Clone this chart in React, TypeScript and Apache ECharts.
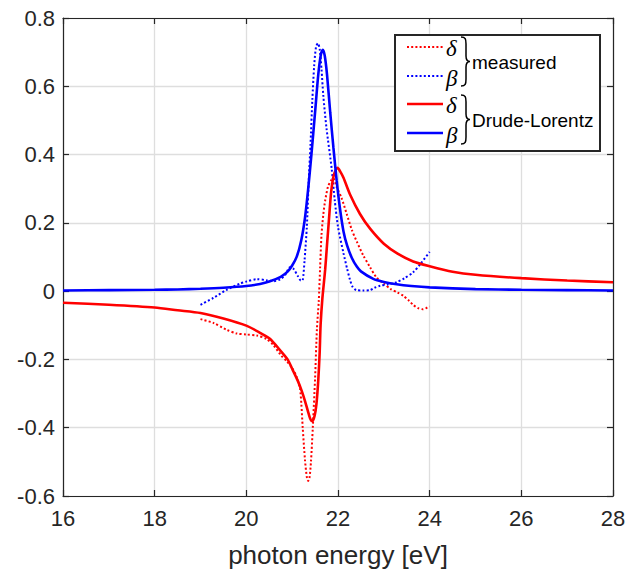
import React, { useEffect, useRef } from "react";
import * as echarts from "echarts";

// Drude-Lorentz fit (solid lines): [photon energy eV, value]
const drudeDelta: [number, number][] = [
  [16, -0.034], [17, -0.040], [18, -0.048], [18.5, -0.056], [19, -0.064], [19.5, -0.080],
  [20, -0.101], [20.3, -0.122], [20.52, -0.140], [20.73, -0.172], [20.9, -0.200], [21.03, -0.236],
  [21.13, -0.265], [21.21, -0.293], [21.28, -0.322], [21.34, -0.350], [21.39, -0.372], [21.44, -0.381],
  [21.49, -0.365], [21.53, -0.330], [21.57, -0.260], [21.6, -0.180], [21.62, -0.100], [21.66, -0.020],
  [21.72, 0.063], [21.76, 0.135], [21.8, 0.205], [21.85, 0.290], [21.9, 0.335], [21.95, 0.355],
  [21.99, 0.361], [22.05, 0.350], [22.12, 0.332], [22.26, 0.284], [22.48, 0.226], [22.7, 0.183],
  [23, 0.139], [23.3, 0.110], [23.64, 0.087], [24, 0.073], [24.5, 0.057], [25, 0.048],
  [26, 0.038], [27, 0.031], [28, 0.026],
];

const drudeBeta: [number, number][] = [
  [16, 0.002], [17, 0.003], [18, 0.004], [18.5, 0.005], [19, 0.007], [19.5, 0.010],
  [20, 0.015], [20.3, 0.021], [20.5, 0.028], [20.75, 0.042], [20.9, 0.057], [21.0, 0.075],
  [21.1, 0.101], [21.2, 0.150], [21.28, 0.215], [21.35, 0.300], [21.42, 0.400], [21.5, 0.524],
  [21.57, 0.635], [21.63, 0.695], [21.67, 0.707], [21.71, 0.690], [21.76, 0.635], [21.83, 0.524],
  [21.9, 0.420], [21.97, 0.325], [22.04, 0.245], [22.12, 0.175], [22.2, 0.133], [22.3, 0.098],
  [22.41, 0.072], [22.5, 0.058], [22.77, 0.036], [23.0, 0.027], [23.28, 0.020], [23.6, 0.015],
  [24, 0.011], [25, 0.006], [26, 0.004], [27, 0.003], [28, 0.002],
];

// Measured (dotted lines)
const measuredDelta: [number, number][] = [
  [19.0, -0.082], [19.28, -0.093], [19.57, -0.113], [19.79, -0.124], [20.0, -0.127], [20.23, -0.130],
  [20.44, -0.140], [20.59, -0.158], [20.77, -0.190], [20.88, -0.205], [21.0, -0.225], [21.1, -0.252],
  [21.17, -0.285], [21.2, -0.330], [21.23, -0.400], [21.28, -0.495], [21.32, -0.545], [21.35, -0.556],
  [21.38, -0.545], [21.41, -0.500], [21.45, -0.400], [21.5, -0.255], [21.54, -0.111], [21.58, -0.030],
  [21.61, 0.070], [21.64, 0.165], [21.68, 0.225], [21.72, 0.265], [21.78, 0.305], [21.85, 0.325],
  [21.9, 0.330], [21.97, 0.305], [22.08, 0.272], [22.19, 0.226], [22.3, 0.180], [22.41, 0.145],
  [22.55, 0.105], [22.7, 0.070], [22.84, 0.040], [23.0, 0.022], [23.15, 0.006], [23.3, -0.004],
  [23.43, -0.014], [23.55, -0.028], [23.64, -0.040], [23.75, -0.050], [23.85, -0.053], [23.95, -0.048],
  [24.0, -0.045],
];

const measuredBeta: [number, number][] = [
  [19.0, -0.040], [19.28, -0.020], [19.57, 0.004], [19.86, 0.022], [20.0, 0.028], [20.23, 0.035],
  [20.44, 0.032], [20.6, 0.029], [20.73, 0.034], [20.85, 0.048], [20.95, 0.070], [21.03, 0.065],
  [21.12, 0.045], [21.19, 0.031], [21.23, 0.032], [21.27, 0.090], [21.32, 0.188], [21.36, 0.320],
  [21.4, 0.430], [21.44, 0.560], [21.48, 0.660], [21.52, 0.715], [21.56, 0.726], [21.6, 0.710],
  [21.64, 0.650], [21.68, 0.572], [21.75, 0.476], [21.86, 0.361], [21.93, 0.265], [22.0, 0.188],
  [22.12, 0.111], [22.2, 0.065], [22.26, 0.034], [22.32, 0.012], [22.4, 0.003], [22.55, 0.002],
  [22.7, 0.003], [22.8, 0.010], [22.92, 0.016], [23.1, 0.020], [23.28, 0.026], [23.45, 0.038],
  [23.64, 0.055], [23.8, 0.080], [24.0, 0.115],
];

const xTicks = { min: 16, max: 28, interval: 2 };
const yTicks = { min: -0.6, max: 0.8, interval: 0.2 };
const xTitle = "photon energy [eV]";
const legendGroups = ["measured", "Drude-Lorentz"];

const AXIS_COLOR = "#262626";
const GRID_COLOR = "#dedede";
const RED = "#ff0000";
const BLUE = "#0000ff";

const BRACE_D =
  "M0 0 C4.5 0 5 2 5 7 L5 19 C5 22.5 6 24.5 9 24.5 C6 24.5 5 26.5 5 30 L5 42 C5 47 4.5 49 0 49";

let braceRegistered = false;

export default function App() {
  const ref = useRef<HTMLDivElement>(null);

  useEffect(() => {
    if (!ref.current) return;
    if (!braceRegistered) {
      echarts.graphic.registerShape("brace", echarts.graphic.extendPath(BRACE_D, {}));
      braceRegistered = true;
    }
    const chart = echarts.init(ref.current, null, { renderer: "svg" });

    const font = "Liberation Sans, Arial, sans-serif";
    const baseAxis = (pos: string, isX: boolean, main: boolean) => ({
      type: "value",
      position: pos,
      ...(isX ? xTicks : yTicks),
      axisLine: { show: true, onZero: false, lineStyle: { color: AXIS_COLOR, width: 1.2 } },
      axisTick: { show: true, inside: true, length: 6, lineStyle: { color: AXIS_COLOR, width: 1.2 } },
      axisLabel: {
        show: main,
        color: AXIS_COLOR,
        fontSize: 22,
        fontFamily: font,
        margin: isX ? 11 : 8,
      },
      splitLine: { show: main, lineStyle: { color: GRID_COLOR, width: 1.3 } },
    });

    const lineSeries = (data: [number, number][], color: string, dotted: boolean) => ({
      type: "line",
      data,
      showSymbol: false,
      smooth: 0.25,
      clip: true,
      lineStyle: { color, width: dotted ? 2 : 2.6, type: dotted ? [2, 2.2] : "solid" },
      xAxisIndex: 0,
      yAxisIndex: 0,
    });

    const legX0 = 407;
    const legX1 = 443;
    const symFont = "italic 23px 'Liberation Serif', 'DejaVu Serif', serif";
    const textFont = "19px 'Liberation Sans', Arial, sans-serif";
    const tStyle = (text: string, f: string) => ({
      text,
      font: f,
      fill: "#000",
      textAlign: "left",
      textVerticalAlign: "middle",
      align: "left",
      verticalAlign: "middle",
    });

    const option: any = {
      animation: false,
      backgroundColor: "#ffffff",
      grid: { left: 63, right: 17, top: 18, bottom: 71, containLabel: false },
      xAxis: [
        {
          ...baseAxis("bottom", true, true),
          name: xTitle,
          nameLocation: "middle",
          nameGap: 46,
          nameTextStyle: { fontSize: 26, color: AXIS_COLOR, fontFamily: font },
        },
        baseAxis("top", true, false),
      ],
      yAxis: [baseAxis("left", false, true), baseAxis("right", false, false)],
      series: [
        lineSeries(measuredDelta, RED, true),
        lineSeries(measuredBeta, BLUE, true),
        lineSeries(drudeDelta, RED, false),
        lineSeries(drudeBeta, BLUE, false),
      ],
      graphic: [
        {
          type: "rect",
          shape: { x: 395, y: 35, width: 205, height: 116 },
          style: { fill: "#ffffff", stroke: AXIS_COLOR, lineWidth: 2 },
          z: 100,
        },
        {
          type: "line",
          shape: { x1: legX0, y1: 47, x2: legX1, y2: 47 },
          style: { stroke: RED, lineWidth: 2, lineDash: [2, 2.2] },
          z: 101,
        },
        {
          type: "line",
          shape: { x1: legX0, y1: 76, x2: legX1, y2: 76 },
          style: { stroke: BLUE, lineWidth: 2, lineDash: [2, 2.2] },
          z: 101,
        },
        {
          type: "line",
          shape: { x1: legX0, y1: 104, x2: legX1, y2: 104 },
          style: { stroke: RED, lineWidth: 2.6 },
          z: 101,
        },
        {
          type: "line",
          shape: { x1: legX0, y1: 133, x2: legX1, y2: 133 },
          style: { stroke: BLUE, lineWidth: 2.6 },
          z: 101,
        },
        { type: "text", x: 446, y: 48, z: 101, style: tStyle("δ", symFont) },
        { type: "text", x: 446, y: 78, z: 101, style: tStyle("β", symFont) },
        { type: "text", x: 446, y: 105, z: 101, style: tStyle("δ", symFont) },
        { type: "text", x: 446, y: 135, z: 101, style: tStyle("β", symFont) },
        { type: "brace", x: 461, y: 37, z: 101, style: { fill: "none", stroke: "#000", lineWidth: 1.5 } },
        { type: "brace", x: 461, y: 95, z: 101, style: { fill: "none", stroke: "#000", lineWidth: 1.5 } },
        { type: "text", x: 472, y: 62, z: 101, style: tStyle(legendGroups[0], textFont) },
        { type: "text", x: 472, y: 120, z: 101, style: tStyle(legendGroups[1], textFont) },
      ],
    };

    chart.setOption(option);
    return () => chart.dispose();
  }, []);

  return (
    <div
      ref={ref}
      style={{ position: "fixed", left: 0, top: 0, width: 630, height: 573, background: "#fff" }}
    />
  );
}
